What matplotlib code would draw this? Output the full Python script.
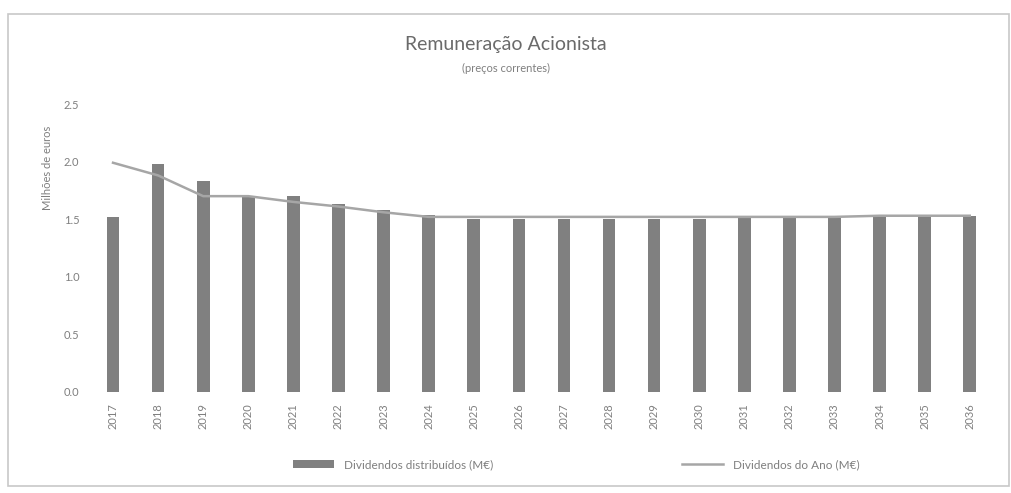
import numpy as np
import matplotlib.pyplot as plt
from matplotlib.patches import Rectangle

plt.rcParams['font.family'] = ['Lato', 'DejaVu Sans']

anos = [str(a) for a in range(2017, 2037)]
distribuidos = [1.52, 1.98, 1.83, 1.69, 1.70, 1.63, 1.58, 1.54, 1.50, 1.50,
                1.50, 1.50, 1.50, 1.50, 1.51, 1.51, 1.51, 1.52, 1.52, 1.53]
dividendos_ano = [1.99, 1.88, 1.70, 1.70, 1.65, 1.61, 1.56, 1.52, 1.52, 1.52,
                  1.52, 1.52, 1.52, 1.52, 1.52, 1.52, 1.52, 1.53, 1.53, 1.53]

txt = '#7f7f7f'
fig = plt.figure(figsize=(10.11, 4.93), dpi=100)
fig.patches.append(Rectangle((0.008, 0.014), 0.99, 0.958, transform=fig.transFigure,
                             fill=False, edgecolor='#c8c8c8', linewidth=1.2))

ax = fig.add_axes([0.0895, 0.205, 0.892, 0.584])
x = np.arange(len(anos))
barras = ax.bar(x, distribuidos, width=0.28, color='#808080', zorder=2)
linha, = ax.plot(x, dividendos_ano, color='#a6a6a6', linewidth=1.8, zorder=3)

ax.set_xlim(-0.5, len(anos) - 0.5)
ax.set_ylim(0, 2.5)
ax.set_yticks(np.arange(0, 2.51, 0.5))
ax.set_yticklabels([f'{v:.1f}' for v in np.arange(0, 2.51, 0.5)], color=txt, fontsize=8)
ax.set_xticks(x)
ax.set_xticklabels(anos, rotation=90, color=txt, fontsize=8)
ax.tick_params(length=0, pad=8)
for s in ax.spines.values():
    s.set_visible(False)

fig.text(0.047, 0.66, 'Milhões de euros', rotation=90, ha='center', va='center',
         color=txt, fontsize=8)
fig.text(0.5, 0.91, 'Remuneração Acionista', ha='center', va='center',
         color='#6a6a6a', fontsize=14)
fig.text(0.5, 0.862, '(preços correntes)', ha='center', va='center', color=txt, fontsize=8)

fig.legend([barras, linha], ['Dividendos distribuídos (M€)', 'Dividendos do Ano (M€)'],
           loc='center', bbox_to_anchor=(0.57, 0.057), ncol=2, frameon=False,
           fontsize=8.5, labelcolor=txt, columnspacing=16, handlelength=3.5)

fig.savefig('out.png', dpi=100)
